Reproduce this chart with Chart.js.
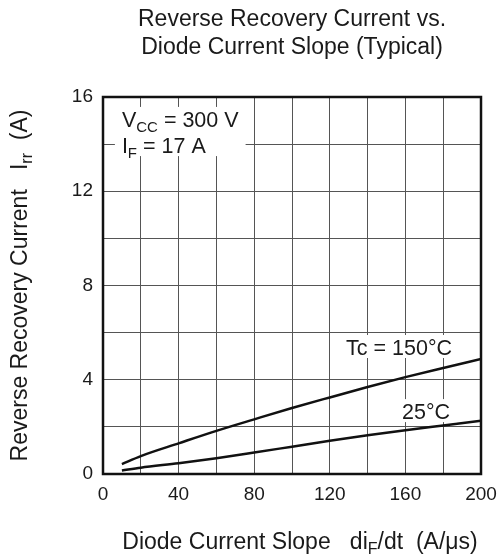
<!DOCTYPE html>
<html><head><meta charset="utf-8">
<script src="https://cdn.jsdelivr.net/npm/chart.js@4/dist/chart.umd.min.js"></script>
<style>html,body{margin:0;padding:0;background:#fff}#w{width:499px;height:559px}</style>
</head><body><div id="w"><canvas id="c" width="499" height="559"></canvas></div>
<script>
const xSlope = [10,20,40,60,80,100,120,140,160,180,200];
const irr150 = [0.42,0.76,1.3,1.83,2.32,2.8,3.25,3.69,4.11,4.5,4.88];
const irr25  = [0.15,0.27,0.46,0.67,0.91,1.16,1.41,1.64,1.86,2.06,2.26];
const xTickLabels = [0,40,80,120,160,200];
const yTickLabels = [0,4,8,12,16];
const titleLines = ['Reverse Recovery Current vs.','Diode Current Slope (Typical)'];

const FF = '"Liberation Sans", Arial, Helvetica, sans-serif';
const BIG = {main:'23px ' + FF, sub:'16px ' + FF, off:5};
const LAB = {main:'21.5px ' + FF, sub:'15px ' + FF, off:5};

function richW(ctx, segs, F){ let w=0; segs.forEach(s=>{ctx.font = s.sub?F.sub:F.main; w+=ctx.measureText(s.t).width;}); return w; }
function rich(ctx, segs, x, y, align, F){
  const w = richW(ctx, segs, F);
  let cx = align === 'center' ? x - w/2 : (align === 'right' ? x - w : x);
  ctx.textAlign = 'left'; ctx.textBaseline = 'alphabetic';
  segs.forEach(s => {
    ctx.font = s.sub ? F.sub : F.main;
    ctx.fillText(s.t, cx, y + (s.sub ? F.off : 0));
    cx += ctx.measureText(s.t).width;
  });
}

// annotation groups (data coordinates); each group gets one white backing box
const labelGroups = [
  {x:10, align:'left', lines:[
    {y:14.73, segs:[{t:'V'},{t:'CC',sub:1},{t:' = 300 V'}]},
    {y:13.62, segs:[{t:'I'},{t:'F',sub:1},{t:' = 17 A'}]}]},
  {x:184.7, align:'right', lines:[{y:5.05, segs:[{t:'Tc = 150°C'}]}]},
  {x:183.6, align:'right', lines:[{y:2.33, segs:[{t:'25°C'}]}]}
];

const decor = {
  id:'decor',
  afterDatasetsDraw(chart){
    const ctx = chart.ctx, xs = chart.scales.x, ys = chart.scales.y;
    ctx.save();
    labelGroups.forEach(g => {
      const px = xs.getPixelForValue(g.x);
      const ws = g.lines.map(l => richW(ctx, l.segs, LAB));
      const w = Math.max(...ws);
      const ysP = g.lines.map(l => ys.getPixelForValue(l.y));
      const left = g.align === 'right' ? px - w : px;
      ctx.fillStyle = '#fff';
      ctx.fillRect(left - 7, Math.min(...ysP) - 20, w + 14, Math.max(...ysP) - Math.min(...ysP) + 23);
      ctx.fillStyle = '#1a1a1a';
      g.lines.forEach((l,i) => rich(ctx, l.segs, px, ysP[i], g.align, LAB));
    });
    ctx.restore();
  },
  afterDraw(chart){
    const ctx = chart.ctx, a = chart.chartArea;
    ctx.save();
    ctx.strokeStyle = '#111'; ctx.lineWidth = 2.5;
    ctx.strokeRect(a.left, a.top, a.right - a.left, a.bottom - a.top);
    ctx.fillStyle = '#1a1a1a';
    const cx = (a.left + a.right)/2;
    ctx.font = BIG.main; ctx.textAlign = 'center'; ctx.textBaseline = 'alphabetic';
    titleLines.forEach((t,i) => ctx.fillText(t, cx, 26 + i*28));
    rich(ctx, [{t:'Diode Current Slope   di'},{t:'F',sub:1},{t:'/dt  (A/\u03bcs)'}], cx + 8, 549, 'center', BIG);
    ctx.translate(27, (a.top + a.bottom)/2);
    ctx.rotate(-Math.PI/2);
    rich(ctx, [{t:'Reverse Recovery Current   I'},{t:'rr',sub:1},{t:'  (A)'}], 0, 0, 'center', BIG);
    ctx.restore();
  }
};

const lineStyle = {borderColor:'#111', borderWidth:2.5, pointRadius:0, tension:0.4, cubicInterpolationMode:'monotone', fill:false};

new Chart(document.getElementById('c'), {
  type:'line',
  data:{ datasets:[
    Object.assign({label:'Tc = 150°C', data: xSlope.map((x,i)=>({x, y: irr150[i]}))}, lineStyle),
    Object.assign({label:'25°C', data: xSlope.map((x,i)=>({x, y: irr25[i]}))}, lineStyle)
  ]},
  options:{
    responsive:false, animation:false, devicePixelRatio:1,
    layout:{padding:{top:97, right:18, left:0, bottom:0}},
    plugins:{legend:{display:false}, tooltip:{enabled:false}, title:{display:false}},
    scales:{
      x:{type:'linear', min:0, max:200,
        ticks:{stepSize:20, autoSkip:false, maxRotation:0, padding:9, color:'#1a1a1a', font:{family:FF, size:19},
          callback:v => xTickLabels.includes(v) ? String(v) : ''},
        grid:{color:'#555', lineWidth:1, drawTicks:false}, border:{display:false},
        afterFit:s => { s.height = 85; s.paddingLeft = 0; s.paddingRight = 0; }},
      y:{min:0, max:16,
        ticks:{stepSize:2, autoSkip:false, padding:10, color:'#1a1a1a', font:{family:FF, size:19},
          callback:v => yTickLabels.includes(v) ? String(v) : ''},
        grid:{color:'#555', lineWidth:1, drawTicks:false}, border:{display:false},
        afterFit:s => { s.width = 103; s.paddingTop = 0; s.paddingBottom = 0; }}
    }
  },
  plugins:[decor]
});
</script></body></html>
